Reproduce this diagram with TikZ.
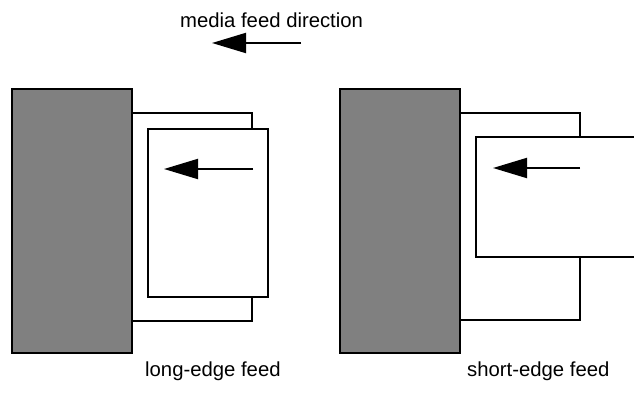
\documentclass[tikz,border=0pt]{standalone}
\usepackage{fontspec}
\setmainfont{Liberation Sans}
\usetikzlibrary{arrows.meta}
\definecolor{blockgray}{RGB}{128,128,128}
\tikzset{
  block/.style={draw=black, line width=2pt, fill=blockgray},
  outline/.style={draw=black, line width=2pt},
  sheet/.style={draw=black, line width=2pt, fill=white},
  feedarrow/.style={line width=2pt, -{Triangle[length=34pt, width=20pt]}},
  lbl/.style={font=\fontsize{20.3}{24}\selectfont, inner sep=0pt, anchor=base west}
}
\begin{document}
\begin{tikzpicture}[x=1pt, y=-1pt]
\useasboundingbox (0,0) rectangle (634,393);
% title and direction arrow
\node[lbl] (title) at (180,28) {media feed direction};
\coordinate (ta) at (301,43);
\coordinate (tb) at (212,43);
\draw[feedarrow] (ta) -- (tb);

% ---- long-edge feed ----
\draw[outline] (132,113) rectangle (252,321);
\draw[sheet] (148,129) rectangle (268,297);
\draw[block] (12,89) rectangle (132,353);
\coordinate (la) at (253,169);
\coordinate (lb) at (164,169);
\draw[feedarrow] (la) -- (lb);
\node[lbl] (long) at (145,376) {long-edge feed};

% ---- short-edge feed ----
\draw[outline] (460,113) rectangle (580,320);
\fill[white] (476,137) rectangle (640,257);
\draw[outline] (640,137) -- (476,137) -- (476,257) -- (640,257);
\draw[block] (340,89) rectangle (460,353);
\coordinate (ra) at (580,168);
\coordinate (rb) at (493,168);
\draw[feedarrow] (ra) -- (rb);
\node[lbl] (short) at (467,376) {short-edge feed};
\end{tikzpicture}
\end{document}
